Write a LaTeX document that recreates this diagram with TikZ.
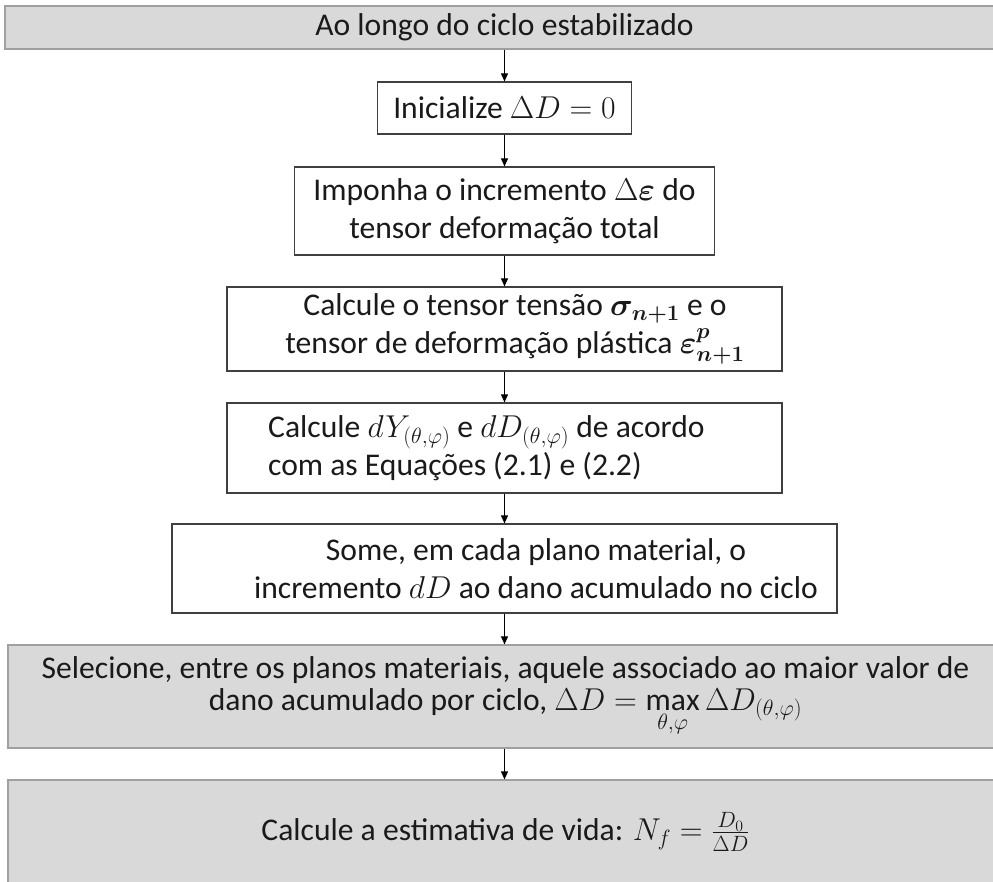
\documentclass[tikz,border=0pt]{standalone}
\usepackage{fix-cm}
\usepackage{amsmath}
\usepackage{bm}
\usepackage{fontspec}
\setmainfont{Carlito}
\usetikzlibrary{arrows.meta}
\definecolor{boxgray}{HTML}{D9D9D9}
\definecolor{graybord}{HTML}{A0A0A0}
\definecolor{darkbord}{HTML}{404040}
\definecolor{txt}{HTML}{1A1A1A}
\tikzset{
  whitebox/.style={draw=darkbord, line width=1.2pt, fill=white, align=center, inner sep=0pt, text=txt},
  graybox/.style={draw=graybord, line width=1.2pt, fill=boxgray, align=center, inner sep=0pt, text=txt},
  lbl/.style={inner sep=0pt, text=txt},
  arr/.style={draw=black, line width=0.9pt, -{Triangle[length=8pt,width=7pt]}}
}
\begin{document}
\begin{tikzpicture}[x=1pt,y=-1pt,font=\fontsize{31.6}{38}\selectfont]
\useasboundingbox (0,0) rectangle (993,881);
\node[graybox, minimum width=999pt, minimum height=43pt] (b1) at (504.5,27.5) {Ao longo do ciclo estabilizado};
\node[whitebox, minimum width=254pt, minimum height=52pt] (b2) at (504.5,108) {Inicialize $\Delta D=0$};
\node[whitebox, minimum width=420pt, minimum height=88pt] (b3) at (504.5,211) {Imponha o incremento $\Delta\bm{\varepsilon}$ do\\tensor deformação total};
\node[whitebox, minimum width=555pt, minimum height=84pt] (b4) at (504.5,329) {};
\node[lbl, align=center] (t4) at (515,329) {Calcule o tensor tensão $\bm{\sigma}_{\bm{n+1}}$ e o\\tensor de deformação plástica $\bm{\varepsilon}^{\bm{p}}_{\bm{n+1}}$};
\node[whitebox, minimum width=555pt, minimum height=90pt] (b5) at (504.5,448) {};
\node[lbl, align=left, anchor=west] (t5) at (268,448) {Calcule $dY_{(\theta,\varphi)}$ e $dD_{(\theta,\varphi)}$ de acordo\\com as Equações (2.1) e (2.2)};
\node[whitebox, minimum width=665pt, minimum height=89pt] (b6) at (504.5,568.5) {};
\node[lbl, align=center] (t6) at (536,568.5) {Some, em cada plano material, o\\incremento $dD$ ao dano acumulado no ciclo};
\node[graybox, minimum width=995pt, minimum height=103pt, font=\fontsize{31.6}{32}\selectfont] (b7) at (505.5,696.5) {Selecione, entre os planos materiais, aquele associado ao maior valor de\\dano acumulado por ciclo, $\Delta D=\max\limits_{\theta,\varphi}\Delta D_{(\theta,\varphi)}$};
\node[graybox, minimum width=995pt, minimum height=104pt] (b8) at (505.5,832) {Calcule a estimativa de vida: $N_f=\frac{D_0}{\Delta D}$};
\draw[arr] (b1.south) -- (b2.north);
\draw[arr] (b2.south) -- (b3.north);
\draw[arr] (b3.south) -- (b4.north);
\draw[arr] (b4.south) -- (b5.north);
\draw[arr] (b5.south) -- (b6.north);
\draw[arr] (b6.south) -- (b7.north -| b6.south);
\draw[arr] (b7.south -| b6.south) -- (b8.north -| b6.south);
\end{tikzpicture}
\end{document}
